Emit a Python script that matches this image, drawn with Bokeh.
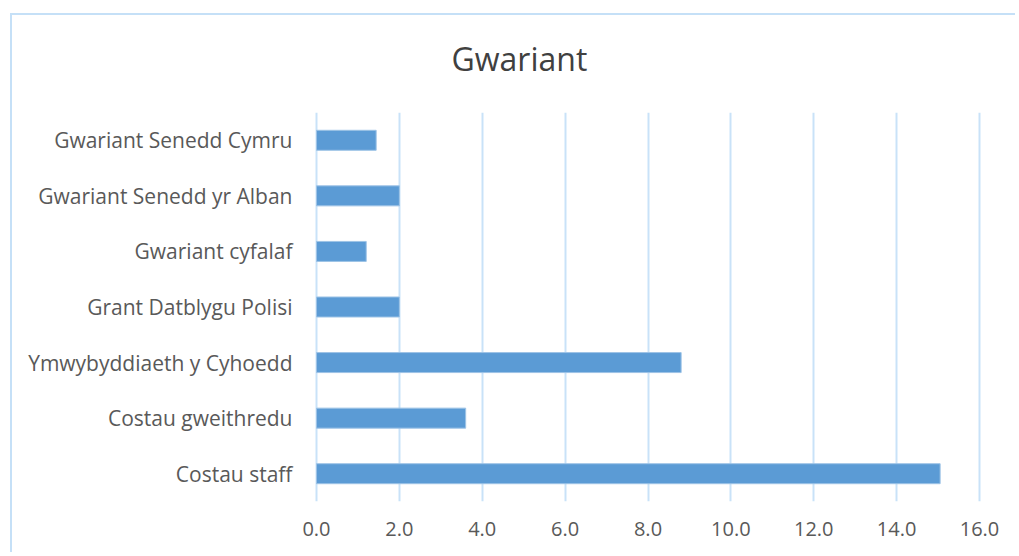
from bokeh.plotting import figure
from bokeh.models import FactorRange, Range1d, FixedTicker, Title
from bokeh.embed import file_html
from bokeh.resources import INLINE

categories = ["Gwariant Senedd Cymru", "Gwariant Senedd yr Alban", "Gwariant cyfalaf",
              "Grant Datblygu Polisi", "Ymwybyddiaeth y Cyhoedd", "Costau gweithredu", "Costau staff"]
values = [1.44, 2.0, 1.2, 2.0, 8.8, 3.6, 15.05]
x_ticks = [0, 2, 4, 6, 8, 10, 12, 14, 16]
x_tick_labels = ["0.0", "2.0", "4.0", "6.0", "8.0", "10.0", "12.0", "14.0", "16.0"]
title_text = "Gwariant"

W, H = 1015, 552
FL, FR = 308, 988
FT, FB = 112, 501
px_per_unit = 41.44
x_start = -(316 - FL) / px_per_unit
x_end = 16 + (FR - 979) / px_per_unit

p = figure(width=W, height=H, output_backend="svg", toolbar_location=None,
           y_range=FactorRange(factors=list(reversed(categories)), range_padding=0),
           x_range=Range1d(x_start, x_end),
           min_border_left=FL, min_border_right=W - FR,
           min_border_top=FT, min_border_bottom=H - FB)
BC = "#C5E0F7"
p.styles = {
    "background-image": f"linear-gradient({BC}, {BC}), linear-gradient({BC}, {BC})",
    "background-size": "100% 2px, 2px 100%",
    "background-position": "10px 13px, 10px 13px",
    "background-repeat": "no-repeat",
}

p.hbar(y=categories, right=values, left=0, height=0.36,
       fill_color="#5B9BD5", line_color="#9DC3E6", line_width=1)

title = Title(text=title_text, align="left", vertical_align="top", offset=143, standoff=62,
              text_font="Open Sans", text_font_size="32px", text_font_style="normal",
              text_color="#404040")
p.add_layout(title, "above")

p.xaxis.ticker = FixedTicker(ticks=x_ticks)
p.xaxis.major_label_overrides = {t: l for t, l in zip(x_ticks, x_tick_labels)}
for ax in (p.xaxis[0], p.yaxis[0]):
    ax.axis_line_color = None
    ax.major_tick_line_color = None
    ax.minor_tick_line_color = None
    ax.major_tick_out = 0
    ax.major_tick_in = 0
    ax.major_label_text_font = "Open Sans"
    ax.major_label_text_color = "#595959"
p.xaxis.major_label_text_font_size = "20px"
p.yaxis.major_label_text_font_size = "21px"
p.xaxis.major_label_standoff = 20
p.yaxis.major_label_standoff = 16

p.xgrid.ticker = FixedTicker(ticks=x_ticks)
p.xgrid.grid_line_color = "#C9E2F8"
p.xgrid.grid_line_width = 2
p.ygrid.grid_line_color = None
p.outline_line_color = None
p.background_fill_color = "white"
p.border_fill_color = None

open("out.html", "w").write(file_html(p, INLINE))
